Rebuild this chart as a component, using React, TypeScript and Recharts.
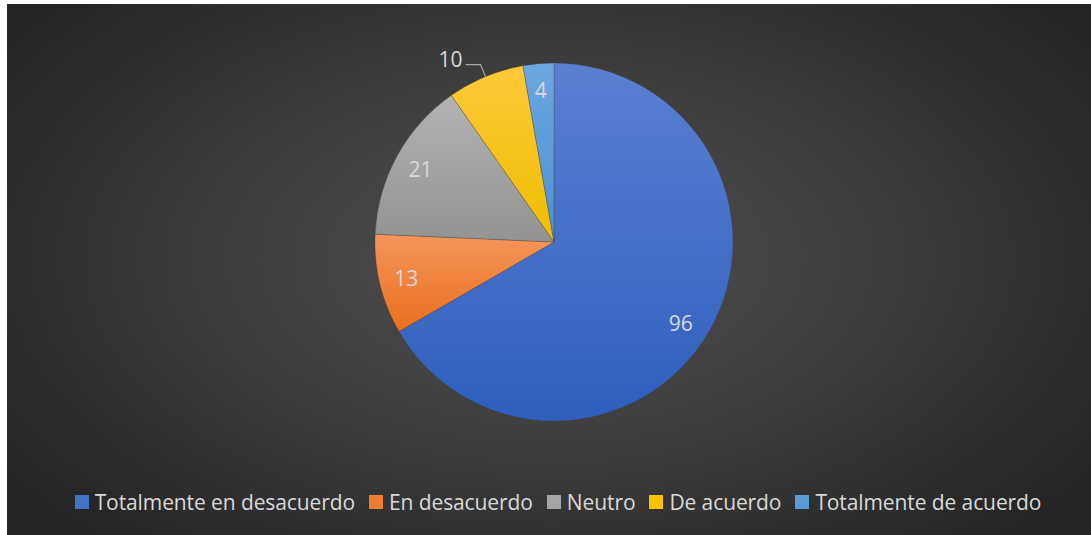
import React from "react";
import {Cell, Legend, Pie, PieChart} from "recharts";

const categories = [
    "Totalmente en desacuerdo",
    "En desacuerdo",
    "Neutro",
    "De acuerdo",
    "Totalmente de acuerdo"
];
const counts = [96, 13, 21, 10, 4];
const topColors = ["#5b80d2", "#f5955c", "#b3b3b3", "#ffc93a", "#6ca8e0"];
const bottomColors = ["#2e5fbd", "#eb6f1c", "#939393", "#eebd00", "#4a8fd4"];
const legendColors = ["#4472c4", "#ed7d31", "#a5a5a5", "#ffc000", "#5b9bd5"];

const data = categories.map((name, i) => ({name, value: counts[i]}));

const FONT = "'Open Sans', 'Noto Sans', sans-serif";
const TEXT = "#d9d9d9";
const RAD = Math.PI / 180;

const renderLabel = (props: any) => {
    const {cx, cy, midAngle, outerRadius, value, index} = props;
    const cos = Math.cos(-midAngle * RAD);
    const sin = Math.sin(-midAngle * RAD);
    if (index === 3) {
        // small slice: label outside with a leader line
        const sx = cx + outerRadius * cos;
        const sy = cy + outerRadius * sin;
        const ex = cx + (outerRadius + 13) * cos;
        const ey = cy + (outerRadius + 13) * sin;
        return <g>
            <path d={`M${sx},${sy}L${ex},${ey}L${ex - 15},${ey}`} stroke="#a6a6a6" strokeWidth={1.2} fill="none" />
            <text x={ex - 18} y={ey - 6} textAnchor="end" dominantBaseline="central"
                  fill={TEXT} fontSize={21} fontFamily={FONT}>{value}</text>
        </g>;
    }
    const r = outerRadius * 0.85;
    const shift = index === 0 ? -5 : 0;
    return <text x={cx + r * cos + shift} y={cy + r * sin + (index === 0 ? 5 : 0)} textAnchor="middle"
                 dominantBaseline="central" fill={TEXT} fontSize={21} fontFamily={FONT}>{value}</text>;
};

const renderLegend = () => (
    <div style={{display: "flex", justifyContent: "center", alignItems: "center", paddingLeft: 18,
        fontFamily: FONT, fontSize: 21, color: TEXT, letterSpacing: -0.1}}>
        {categories.map((name, i) => (
            <span key={name} style={{display: "inline-flex", alignItems: "center", marginRight: i < categories.length - 1 ? 14 : 0}}>
                <span style={{display: "inline-block", width: 14, height: 14, background: legendColors[i], marginRight: 6}} />
                {name}
            </span>
        ))}
    </div>
);

const App: React.FC = () => {
    return <div style={{
        position: "absolute", left: 7, top: 4, width: 1084, height: 531,
        background: "radial-gradient(ellipse 60% 70% at 50% 48%, #505050 0%, #3b3b3b 55%, #252525 100%)"
    }}>
        <PieChart width={1084} height={531} margin={{top: 0, right: 0, bottom: 0, left: 0}}>
            <defs>
                {categories.map((name, i) => (
                    <linearGradient key={name} id={`slice${i}`} x1="0" y1="0" x2="0" y2="1">
                        <stop offset="0%" stopColor={topColors[i]} />
                        <stop offset="100%" stopColor={bottomColors[i]} />
                    </linearGradient>
                ))}
            </defs>
            <Pie data={data} dataKey="value" nameKey="name" cx={547} cy={238} outerRadius={179}
                 startAngle={90} endAngle={-270} stroke="rgba(60,60,60,0.5)" strokeWidth={0.6}
                 label={renderLabel} labelLine={false} isAnimationActive={false}>
                {data.map((d, i) => <Cell key={d.name} fill={`url(#slice${i})`} />)}
            </Pie>
            <Legend content={renderLegend} verticalAlign="bottom" wrapperStyle={{bottom: 19}} />
        </PieChart>
    </div>;
};

export default App;
